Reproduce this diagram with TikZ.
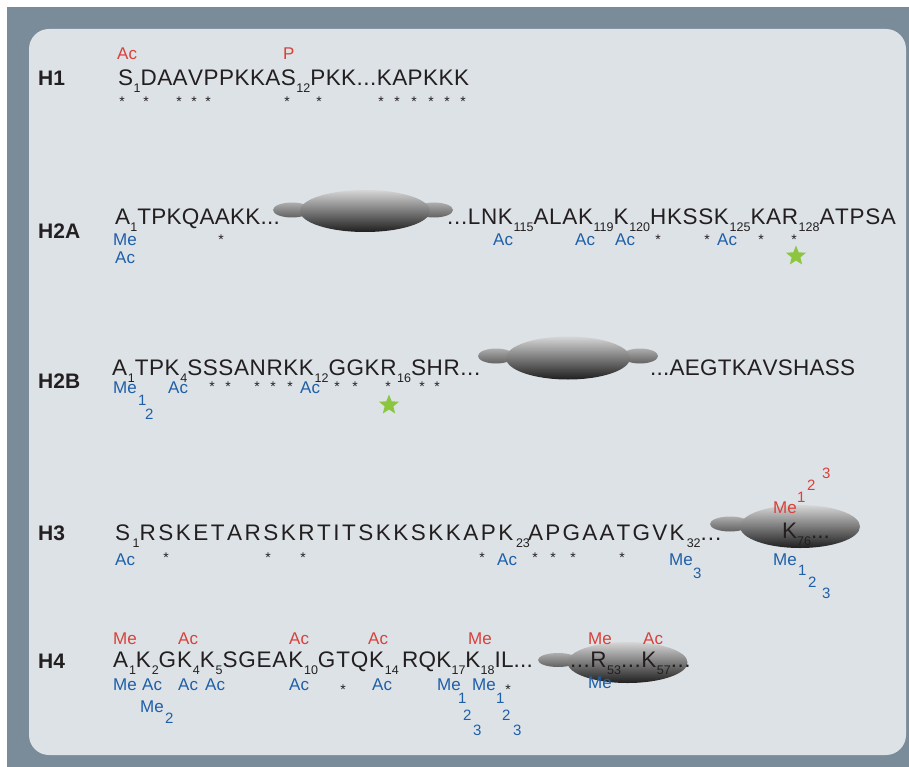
\documentclass[tikz,border=0pt]{standalone}
\usepackage{fontspec}
\setmainfont{Liberation Sans}
\usetikzlibrary{shapes.geometric}
\definecolor{ink}{HTML}{231F20}
\definecolor{modred}{HTML}{D8413A}
\definecolor{modblue}{HTML}{1F5FA8}
\definecolor{stargreen}{HTML}{8CC63F}
\definecolor{slate}{HTML}{7A8B9A}
\definecolor{panel}{HTML}{DDE2E6}
\newcommand\sbs[1]{\raisebox{-7pt}{\fontsize{12.5}{12.5}\selectfont #1}}
\ExplSyntaxOn
\NewDocumentCommand\ls{m m}{\tl_map_inline:nn {#2} {##1\kern #1}}
\ExplSyntaxOff
\begin{document}
\begin{tikzpicture}[x=1pt,y=-1pt,
  seq/.style={anchor=base west, inner sep=0pt, font=\fontsize{22.5}{27}\selectfont, text=ink},
  hlab/.style={anchor=base west, inner sep=0pt, font=\bfseries\fontsize{21}{25}\selectfont, text=ink},
  modr/.style={anchor=base west, inner sep=0pt, font=\fontsize{17}{20}\selectfont, text=modred},
  modb/.style={anchor=base west, inner sep=0pt, font=\fontsize{17}{20}\selectfont, text=modblue},
  numr/.style={anchor=base west, inner sep=0pt, font=\fontsize{15}{18}\selectfont, text=modred},
  numb/.style={anchor=base west, inner sep=0pt, font=\fontsize{15}{18}\selectfont, text=modblue},
  ast/.style={anchor=base, inner sep=0pt, font=\fontsize{14}{14}\selectfont, text=ink, yshift=-8pt},
  gstar/.style={star, star points=5, star point ratio=2.3, fill=stargreen, draw=none, minimum size=21pt, inner sep=0pt},
  lobe/.style={ellipse, draw=none, inner sep=0pt, top color=black!32, bottom color=black!62},
  body/.style={ellipse, draw=none, inner sep=0pt, top color=black!16, bottom color=black!88}
]
\useasboundingbox (0,0) rectangle (909,767);
\fill[slate] (7,7) rectangle (909,767);
\fill[panel, rounded corners=20pt] (29,29) rectangle (906,755);

% ---------------- H1
\node[hlab] (lH1) at (38,86) {H1};
\node[seq] (sH1) at (118,86) {\ls{0.45pt}{S}\sbs{1}\ls{0.45pt}{DAAVPPKKAS}\sbs{12}\ls{0.45pt}{PKK...KAPKKK}};
\node[modr] (h1ac) at (117,60) {Ac};
\node[modr] (h1p) at (283,60) {P};
\foreach \x [count=\i] in {122,146,179,194,208,287,319,381,397,414,431,447,463}
  \node[ast] (a1-\i) at (\x,99) {*};

% ---------------- H2A
\node[lobe, minimum width=38pt, minimum height=15pt] (g2al) at (292,210) {};
\node[lobe, minimum width=38pt, minimum height=15pt] (g2ar) at (434,210) {};
\node[body, minimum width=130pt, minimum height=42pt] (g2a) at (365,211) {};
\node[hlab] (lH2A) at (38,239) {H2A};
\node[seq] (s2a1) at (115,225) {\ls{0.25pt}{A}\sbs{1}\ls{0.25pt}{TPKQAAKK...}};
\node[seq] (s2a2) at (447,225) {\ls{0.65pt}{...LNK}\sbs{115}\ls{0.65pt}{ALAK}\sbs{119}\ls{0.65pt}{K}\sbs{120}\ls{0.65pt}{HKSSK}\sbs{125}\ls{0.65pt}{KAR}\sbs{128}\ls{0.65pt}{ATPSA}};
\node[modb] (h2ame) at (113,245) {Me};
\node[modb] (h2aac) at (115,263) {Ac};
\node[modb] (h2aac1) at (493,245) {Ac};
\node[modb] (h2aac2) at (575,245) {Ac};
\node[modb] (h2aac3) at (615,245) {Ac};
\node[modb] (h2aac4) at (717,245) {Ac};
\foreach \x [count=\i] in {221,658,707,761,794}
  \node[ast] (a2-\i) at (\x,236) {*};
\node[gstar] (gs2a) at (796,256) {};

% ---------------- H2B
\node[lobe, minimum width=36pt, minimum height=15pt] (g2bl) at (496,356) {};
\node[lobe, minimum width=36pt, minimum height=15pt] (g2br) at (640,356) {};
\node[body, minimum width=124pt, minimum height=43pt] (g2b) at (568,358) {};
\node[hlab] (lH2B) at (38,388) {H2B};
\node[seq] (s2b1) at (112,375) {\ls{0.6pt}{A}\sbs{1}\ls{0.6pt}{TPK}\sbs{4}\ls{0.6pt}{SSSANRKK}\sbs{12}\ls{0.6pt}{GGKR}\sbs{16}\ls{0.6pt}{SHR...}};
\node[seq] (s2b2) at (650,375) {\ls{0.25pt}{...AEGTKAVSHASS}};
\node[modb] (h2bme) at (113,393) {Me};
\node[numb] (h2b1) at (138,405) {1};
\node[numb] (h2b2) at (145,419) {2};
\node[modb] (h2bac1) at (168,393) {Ac};
\node[modb] (h2bac2) at (300,393) {Ac};
\foreach \x [count=\i] in {212,228,257,273,290,337,355,388,422,437}
  \node[ast] (a3-\i) at (\x,383) {*};
\node[gstar] (gs2b) at (389,405) {};

% ---------------- H3
\node[lobe, minimum width=40pt, minimum height=15pt] (g3l) at (730,524) {};
\node[body, minimum width=120pt, minimum height=43pt] (g3) at (800,526.5) {};
\node[hlab] (lH3) at (38,540) {H3};
\node[seq] (s31) at (115,540) {\ls{2.5pt}{S}\sbs{1}\ls{2.5pt}{RSKETARSKRTITSKKSKKAPK}\sbs{23}};
\node[seq] (s32) at (528,540) {\ls{2.2pt}{APGAATGVK}\sbs{32}\ls{1pt}{...}};
\node[seq] (s33) at (782,538) {K\sbs{76}...};
\node[modb] (h3ac1) at (115,565) {Ac};
\node[modb] (h3ac2) at (497,565) {Ac};
\node[modb] (h3me1) at (669,565) {Me};
\node[numb] (h3n3) at (693,578) {3};
\foreach \x [count=\i] in {166,268,303,482,535,553,573,622}
  \node[ast] (a4-\i) at (\x,554) {*};
\node[modr] (h3mer) at (773,513) {Me};
\node[numr] (h3r1) at (797,502) {1};
\node[numr] (h3r2) at (807,490) {2};
\node[numr] (h3r3) at (822,478) {3};
\node[modb] (h3meb) at (773,565) {Me};
\node[numb] (h3b1) at (798,575) {1};
\node[numb] (h3b2) at (808,587) {2};
\node[numb] (h3b3) at (822,598) {3};

% ---------------- H4
\node[lobe, minimum width=40pt, minimum height=14pt] (g4l) at (558,660) {};
\node[body, minimum width=120pt, minimum height=41pt] (g4) at (627.5,662.5) {};
\node[hlab] (lH4) at (38,668) {H4};
\node[seq] (s41) at (113,667) {\ls{0.8pt}{A}\sbs{1}\ls{0.8pt}{K}\sbs{2}\ls{0.8pt}{GK}\sbs{4}\ls{0.8pt}{K}\sbs{5}\ls{0.8pt}{SGEAK}\sbs{10}\ls{0.8pt}{GTQK}\sbs{14}};
\node[seq] (s42) at (402,667) {\ls{0.2pt}{RQK}\sbs{17}\ls{0.2pt}{K}\sbs{18}\ls{0.2pt}{IL...}};
\node[seq] (s43) at (570,667) {\ls{0.5pt}{...R}\sbs{53}\ls{0.5pt}{...K}\sbs{57}\ls{0.5pt}{...}};
\node[modr] (h4r1) at (113,644) {Me};
\node[modr] (h4r2) at (178,644) {Ac};
\node[modr] (h4r3) at (289,644) {Ac};
\node[modr] (h4r4) at (368,644) {Ac};
\node[modr] (h4r5) at (468,644) {Me};
\node[modr] (h4r6) at (588,644) {Me};
\node[modr] (h4r7) at (643,644) {Ac};
\node[modb] (h4b1) at (113,690) {Me};
\node[modb] (h4b2) at (142,690) {Ac};
\node[modb] (h4b3) at (178,690) {Ac};
\node[modb] (h4b4) at (205,690) {Ac};
\node[modb] (h4b5) at (289,690) {Ac};
\node[modb] (h4b6) at (372,690) {Ac};
\node[modb] (h4b7) at (437,690) {Me};
\node[modb] (h4b8) at (472,690) {Me};
\node[modb] (h4b9) at (588,688) {Me};
\node[modb] (h4me2) at (140,712) {Me};
\node[numb] (h4n2) at (165,723) {2};
\node[numb] (h4c1) at (458,703) {1};
\node[numb] (h4c2) at (463,720) {2};
\node[numb] (h4c3) at (473,735) {3};
\node[numb] (h4d1) at (496,703) {1};
\node[numb] (h4d2) at (502,720) {2};
\node[numb] (h4d3) at (513,735) {3};
\foreach \x [count=\i] in {343,508}
  \node[ast] (a5-\i) at (\x,686) {*};
\end{tikzpicture}
\end{document}
